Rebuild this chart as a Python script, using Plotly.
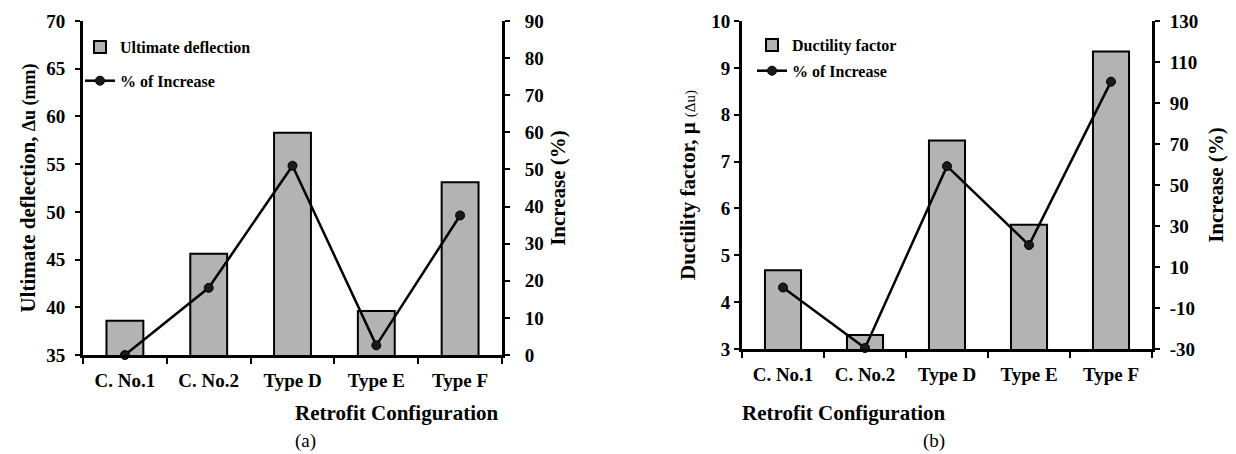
import plotly.graph_objects as go

categories = ["C. No.1", "C. No.2", "Type D", "Type E", "Type F"]
deflection = [38.6, 45.6, 58.3, 39.6, 53.1]
deflection_increase = [0.0, 18.1, 51.0, 2.6, 37.6]
ductility = [4.68, 3.3, 7.45, 5.65, 9.35]
ductility_increase = [0.0, -29.5, 59.2, 20.7, 100.4]

defl_ticks = [35, 40, 45, 50, 55, 60, 65, 70]
defl_inc_ticks = [0, 10, 20, 30, 40, 50, 60, 70, 80, 90]
duct_ticks = [3, 4, 5, 6, 7, 8, 9, 10]
duct_inc_ticks = [-30, -10, 10, 30, 50, 70, 90, 110, 130]

W, H = 1236, 454
FONT = "Liberation Serif"
BAR_COLOR = "#b3b3b3"


def px_x(v):
    return v / W


def px_y(v):
    return 1 - v / H


def bold(vals):
    return ["<b>%s</b>" % v for v in vals]


fig = go.Figure()

# Panel (a)
fig.add_trace(go.Bar(
    x=categories, y=deflection, name="Ultimate deflection",
    marker=dict(color=BAR_COLOR, line=dict(color="black", width=2)),
    xaxis="x", yaxis="y", legend="legend", legendgroup="a1", width=0.44,
))
fig.add_trace(go.Scatter(
    x=categories, y=deflection_increase, name="% of Increase",
    mode="lines+markers", line=dict(color="black", width=2.5),
    marker=dict(symbol="circle", size=9, color="#1a1a1a", line=dict(color="black", width=1)),
    xaxis="x", yaxis="y2", legend="legend", legendgroup="a2", cliponaxis=False,
))

# Panel (b)
fig.add_trace(go.Bar(
    x=categories, y=ductility, name="Ductility factor",
    marker=dict(color=BAR_COLOR, line=dict(color="black", width=2)),
    xaxis="x2", yaxis="y3", legend="legend2", legendgroup="b1", width=0.44,
))
fig.add_trace(go.Scatter(
    x=categories, y=ductility_increase, name="% of Increase",
    mode="lines+markers", line=dict(color="black", width=2.5),
    marker=dict(symbol="circle", size=9, color="#1a1a1a", line=dict(color="black", width=1)),
    xaxis="x2", yaxis="y4", legend="legend2", legendgroup="b2", cliponaxis=False,
))

tickfont = dict(family=FONT, size=19, color="black", weight="bold")
titlefont = dict(family=FONT, size=21, color="black", weight="bold")
legfont = dict(family=FONT, size=16, color="black", weight="bold")

common = dict(
    showline=True, linewidth=3, linecolor="black", mirror=False,
    ticks="outside", ticklen=5, tickwidth=2, tickcolor="black",
    tickfont=tickfont, showgrid=False, zeroline=False, automargin=False,
)

xa = dict(common, tickson="boundaries", ticklen=6, tickvals=categories,
          ticktext=bold(categories), ticklabelstandoff=6)

fig.update_layout(
    width=W, height=H,
    margin=dict(l=0, r=0, t=0, b=0, autoexpand=False),
    paper_bgcolor="white", plot_bgcolor="white",
    xaxis=dict(xa, domain=[px_x(83), px_x(502)], anchor="y"),
    yaxis=dict(common, domain=[px_y(355), px_y(21)], anchor="x",
               range=[35, 70], tickvals=defl_ticks, ticktext=bold(defl_ticks),
               ticklabelstandoff=6,
               title=dict(text="Ultimate deflection, <span style='font-size:18px'>Δu (mm)</span>",
                          font=titlefont, standoff=5)),
    yaxis2=dict(common, overlaying="y", side="right", anchor="x",
                range=[0, 90], tickvals=defl_inc_ticks, ticktext=bold(defl_inc_ticks),
                ticklabelstandoff=11,
                title=dict(text="Increase (%)", font=titlefont, standoff=8)),
    xaxis2=dict(xa, domain=[px_x(742), px_x(1152)], anchor="y3"),
    yaxis3=dict(common, domain=[px_y(349), px_y(21)], anchor="x2",
                range=[3, 10], tickvals=duct_ticks, ticktext=bold(duct_ticks),
                ticklabelstandoff=0,
                title=dict(text="Ductility factor, μ <span style='font-size:15px;font-weight:normal'>(Δu)</span>",
                           font=titlefont, standoff=10)),
    yaxis4=dict(common, overlaying="y3", side="right", anchor="x2",
                range=[-30, 130], tickvals=duct_inc_ticks, ticktext=bold(duct_inc_ticks),
                ticklabelstandoff=6,
                title=dict(text="Increase (%)", font=titlefont, standoff=12)),
    legend=dict(x=px_x(80), y=px_y(30), xanchor="left", yanchor="top",
                font=legfont, bgcolor="rgba(0,0,0,0)", tracegroupgap=10,
                traceorder="grouped", itemwidth=30),
    legend2=dict(x=px_x(752), y=px_y(28), xanchor="left", yanchor="top",
                 font=legfont, bgcolor="rgba(0,0,0,0)", tracegroupgap=2,
                 traceorder="grouped", itemwidth=30),
    annotations=[
        dict(text="<b>Retrofit Configuration</b>", x=(px_x(83) + px_x(502)) / 2, y=px_y(413),
             xref="paper", yref="paper", showarrow=False, yanchor="middle", font=titlefont),
        dict(text="(a)", x=(px_x(83) + px_x(502)) / 2, y=px_y(441),
             xref="paper", yref="paper", showarrow=False, yanchor="middle",
             font=dict(family=FONT, size=19, color="black")),
        dict(text="<b>Retrofit Configuration</b>", x=(px_x(742) + px_x(1152)) / 2, y=px_y(413),
             xref="paper", yref="paper", showarrow=False, yanchor="middle", font=titlefont),
        dict(text="(b)", x=(px_x(742) + px_x(1152)) / 2, y=px_y(441),
             xref="paper", yref="paper", showarrow=False, yanchor="middle",
             font=dict(family=FONT, size=19, color="black")),
    ],
)

# remove the browser's default 8px body margin so the figure fills the window
fig.write_html("out.html", config={"displayModeBar": False},
               post_script="document.body.style.margin='0';")
